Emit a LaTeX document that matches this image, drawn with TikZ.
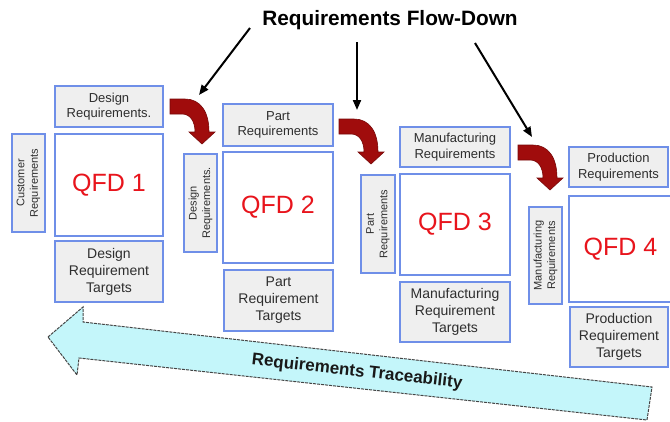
\documentclass[tikz,border=0pt]{standalone}
\usepackage{fontspec}
\setmainfont{Liberation Sans}
\usetikzlibrary{arrows.meta}
\definecolor{boxblue}{HTML}{6F8FE8}
\definecolor{boxgray}{HTML}{EFEFEF}
\definecolor{txtgray}{HTML}{2E2E2E}
\definecolor{qfdred}{HTML}{E8141C}
\definecolor{darkred}{HTML}{A00C0C}
\definecolor{cyanfill}{HTML}{C4F6FA}
\definecolor{arrowline}{HTML}{454545}
\tikzset{
  lbl/.style={draw=boxblue, line width=1.1pt, fill=boxgray, text=txtgray, align=center, inner sep=0pt},
  topbox/.style={lbl, font=\fontsize{13}{15.5}\selectfont},
  botbox/.style={lbl, font=\fontsize{14}{17}\selectfont},
  vbox/.style={lbl, rotate=90, font=\fontsize{11}{13.5}\selectfont},
  qfd/.style={draw=boxblue, line width=1.1pt, fill=white, text=qfdred, inner sep=0pt, font=\fontsize{25}{30}\selectfont},
  flow/.style={line width=2pt, -{Triangle[length=10pt,width=8pt]}},
  redarrow/.pic={\filldraw[fill=darkred, draw=darkred!75!black, line width=0.6pt]
     (0,0) -- (15,0) .. controls (30,0) and (39,12) .. (39,33) -- (45,33) -- (32,45) -- (19,33) -- (25,33)
     .. controls (25,22) and (20,15) .. (12,15) -- (0,15) -- cycle;}
}
\begin{document}
\begin{tikzpicture}[x=1pt,y=-1pt]
\useasboundingbox (0,0) rectangle (670,421);
\clip (0,0) rectangle (670,421);

% traceability arrow
\filldraw[fill=cyanfill, draw=arrowline, line width=1pt, dash pattern=on 3pt off 1pt, line join=miter]
  (48,337) -- (83,307) -- (83,322) -- (652,387) -- (647,420) -- (79,358) -- (77,375) -- cycle;
\node[rotate=-6.4, font=\bfseries\fontsize{17}{20}\selectfont, text=black!90] (trace) at (357,372) {Requirements Traceability};

% title
\node[font=\bfseries\fontsize{20.8}{24}\selectfont] (title) at (390,20) {Requirements Flow-Down};

% group 1
\node[topbox, minimum width=108pt, minimum height=41pt] (dr1) at (109,106.5) {Design\\Requirements.};
\node[qfd, minimum width=108pt, minimum height=102pt] (q1) at (109,185) {QFD 1};
\node[vbox, minimum width=98pt, minimum height=33pt] (cr1) at (28.5,183) {Customer\\Requirements};
\node[botbox, minimum width=108pt, minimum height=61pt] (t1) at (109,271.5) {Design\\Requirement\\Targets};

% group 2
\node[topbox, minimum width=110pt, minimum height=42pt] (pr2) at (278,125) {Part\\Requirements};
\node[qfd, minimum width=110pt, minimum height=111pt] (q2) at (278,207.5) {QFD 2};
\node[vbox, minimum width=98pt, minimum height=33pt] (dr2) at (200.5,203) {Design\\Requirements.};
\node[botbox, minimum width=109pt, minimum height=61pt] (t2) at (278.5,300.5) {Part\\Requirement\\Targets};

% group 3
\node[topbox, minimum width=110pt, minimum height=40pt] (mr3) at (455,147) {Manufacturing\\Requirements};
\node[qfd, minimum width=110pt, minimum height=101pt] (q3) at (455,224.5) {QFD 3};
\node[vbox, minimum width=98pt, minimum height=34pt] (pr3) at (378,224) {Part\\Requirements};
\node[botbox, minimum width=110pt, minimum height=60pt] (t3) at (455,312) {Manufacturing\\Requirement\\Targets};

% group 4
\node[topbox, minimum width=99pt, minimum height=40pt] (pr4) at (618.5,167) {Production\\Requirements};
\node[qfd, minimum width=103pt, minimum height=106pt] (q4) at (620.5,249) {QFD 4};
\node[vbox, minimum width=97pt, minimum height=33pt] (mr4) at (545.5,255.5) {Manufacturing\\Requirements};
\node[botbox, minimum width=98pt, minimum height=60pt] (t4) at (619,337) {Production\\Requirement\\Targets};

% red flow arrows
\pic at (170,99) {redarrow};
\pic at (339,119) {redarrow};
\pic at (518,145) {redarrow};

% black arrows
\coordinate (s1) at (250,28);
\coordinate (e1) at (199,95);
\coordinate (s2) at (357,42);
\coordinate (e2) at (357,110);
\coordinate (s3) at (475,43);
\coordinate (e3) at (532,137);
\draw[flow] (s1) -- (e1);
\draw[flow] (s2) -- (e2);
\draw[flow] (s3) -- (e3);
\end{tikzpicture}
\end{document}
